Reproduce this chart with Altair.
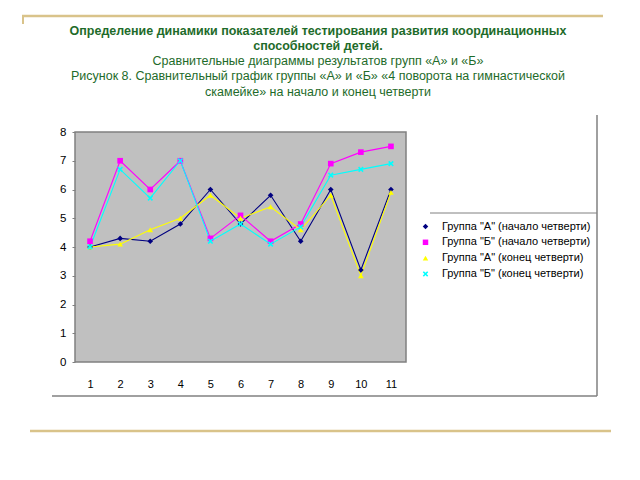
import altair as alt
import pandas as pd

# ---- data ----
lessons = [1, 2, 3, 4, 5, 6, 7, 8, 9, 10, 11]
series_names = [
    'Группа "А" (начало четверти)',
    'Группа "Б" (начало четверти)',
    'Группа "А" (конец четверти)',
    'Группа "Б" (конец четверти)',
]
a_start = [4.0, 4.3, 4.2, 4.8, 6.0, 4.8, 5.8, 4.2, 6.0, 3.2, 6.0]
b_start = [4.2, 7.0, 6.0, 7.0, 4.3, 5.1, 4.2, 4.8, 6.9, 7.3, 7.5]
a_end = [4.0, 4.1, 4.6, 5.0, 5.8, 5.0, 5.4, 4.6, 5.8, 3.0, 5.9]
b_end = [4.0, 6.7, 5.7, 7.0, 4.2, 4.8, 4.1, 4.7, 6.5, 6.7, 6.9]
y_ticks = [0, 1, 2, 3, 4, 5, 6, 7, 8]

title_lines = [
    "Определение динамики показателей  тестирования развития координационных",
    "способностей детей.",
    "Сравнительные диаграммы результатов групп «А» и «Б»",
    "Рисунок 8. Сравнительный график группы «А» и «Б» «4 поворота на гимнастической",
    "скамейке» на начало и конец четверти",
]

rows = []
for name, vals in zip(series_names, [a_start, b_start, a_end, b_end]):
    for l, v in zip(lessons, vals):
        rows.append({"lesson": str(l), "value": v, "series": name})
df = pd.DataFrame(rows)

colors = ["#000080", "#FF00FF", "#FFFF00", "#00FFFF"]
xshape = "M-1,-0.6L-0.6,-1L0,-0.4L0.6,-1L1,-0.6L0.4,0L1,0.6L0.6,1L0,0.4L-0.6,1L-1,0.6L-0.4,0Z"
shapes = ["diamond", "square", "triangle-up", xshape]

FONT = "Liberation Sans"
PL, PT = 75, 132  # plot origin in page pixels
W, H = 331, 230

x_enc = alt.X("lesson:N", sort=[str(l) for l in lessons],
              scale=alt.Scale(type="point", padding=0.5),
              axis=alt.Axis(title=None, labelAngle=0, ticks=False, domain=False,
                            labelPadding=16, labelFontSize=11, labelColor="black",
                            labelFont=FONT))
y_enc = alt.Y("value:Q", scale=alt.Scale(domain=[0, 8], nice=False),
              axis=alt.Axis(title=None, values=y_ticks, grid=False, domain=False,
                            tickSize=3, tickColor="#808080", labelPadding=6,
                            labelFontSize=11.5, labelColor="black", labelFont=FONT))
color_enc = alt.Color("series:N", sort=series_names,
                      scale=alt.Scale(domain=series_names, range=colors),
                      legend=alt.Legend(title=None, orient="none",
                                        legendX=345, legendY=89,
                                        labelFont=FONT, labelFontSize=11,
                                        labelColor="black", symbolSize=30,
                                        rowPadding=3.8, padding=0, labelOffset=11,
                                        symbolStrokeWidth=0))
shape_enc = alt.Shape("series:N", sort=series_names,
                      scale=alt.Scale(domain=series_names, range=shapes))

base = alt.Chart(df)
lines = base.mark_line(strokeWidth=1.1).encode(
    x=x_enc, y=y_enc, color=color_enc, detail="series:N")
points = base.mark_point(filled=True, size=32, opacity=1).encode(
    x=x_enc, y=y_enc, color=color_enc, shape=shape_enc)

one = pd.DataFrame({"k": [0]})

def hrule(x1, x2, y, color, width):
    return alt.Chart(one).mark_rule(color=color, strokeWidth=width).encode(
        x=alt.value(x1 - PL), x2=alt.value(x2 - PL), y=alt.value(y - PT))

def vrule(x, y1, y2, color, width):
    return alt.Chart(one).mark_rule(color=color, strokeWidth=width).encode(
        x=alt.value(x - PL), y=alt.value(y1 - PT), y2=alt.value(y2 - PT))

tan = "#D9C38A"
decor = [
    hrule(22, 603, 16, tan, 2.5),
    vrule(23, 16, 24, tan, 2),
    hrule(30, 611, 431, tan, 2.5),
    vrule(597, 115, 396, "#808080", 1.5),
    hrule(52, 597, 396, "#808080", 1.5),
    hrule(430, 597, 213, "#808080", 1),
]

title_y = [31, 46, 61, 76, 92]
green = "#1E6B2A"
texts = []
for i, (t, ty) in enumerate(zip(title_lines, title_y)):
    texts.append(alt.Chart(one).mark_text(
        font=FONT, fontSize=12.5, fontWeight="bold" if i < 2 else "normal",
        color=green, align="center", baseline="middle").encode(
        x=alt.value(318 - PL), y=alt.value(ty - PT), text=alt.value(t)))

chart = alt.layer(lines, points, *decor, *texts).properties(
    width=W, height=H,
    padding={"left": PL, "top": PT, "right": 640 - PL - W, "bottom": 480 - PT - H},
    autosize=alt.AutoSizeParams(type="none"),
    background="white",
).configure_view(fill="#C0C0C0", stroke="#808080", strokeWidth=1.5)

chart.save("out.html", embed_options={"renderer": "svg", "actions": False})
